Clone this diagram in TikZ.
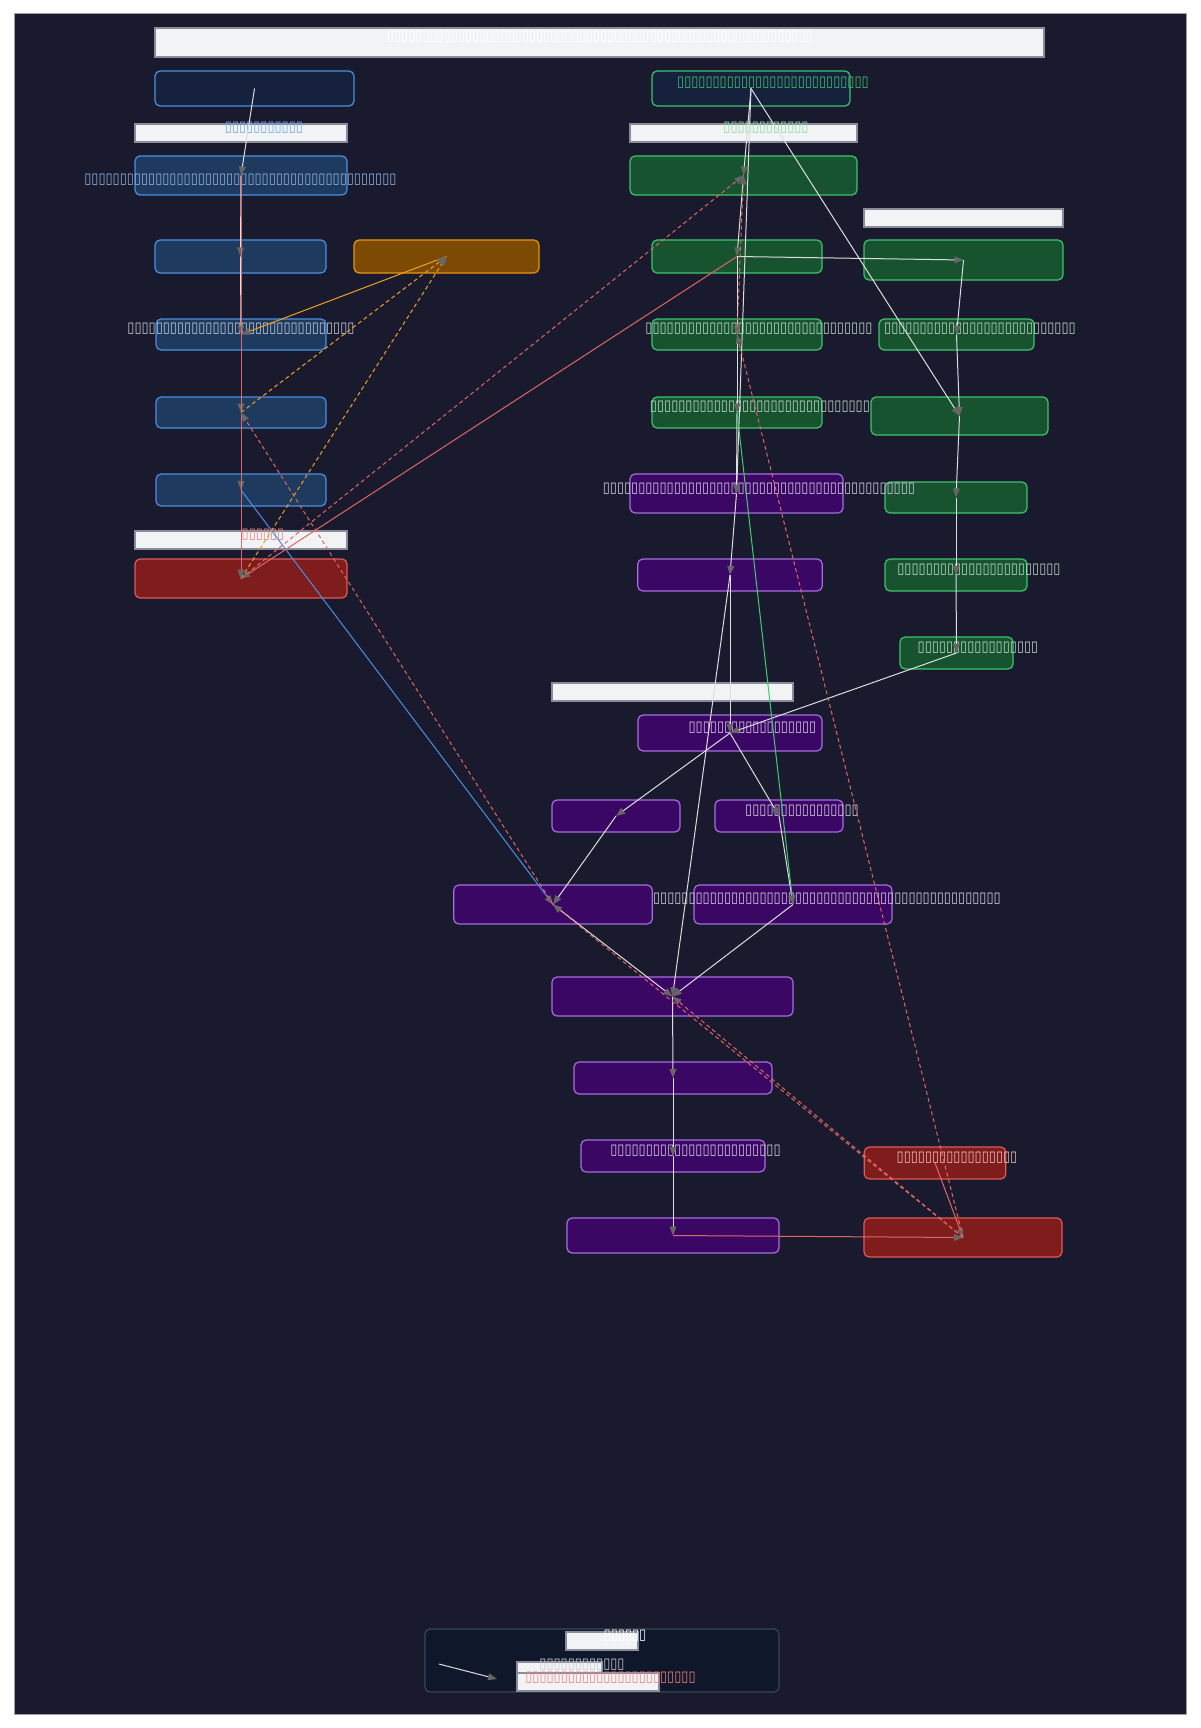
\documentclass[tikz,border=0pt]{standalone}
\usepackage{fontspec}
\usetikzlibrary{arrows.meta}
\newfontfamily\tofufont[FakeStretch=0.88]{DejaVu Sans}
\ExplSyntaxOn
\cs_new:Npn \tofurow #1 { \prg_replicate:nn {#1} {▯} }
\ExplSyntaxOff
\definecolor{bgc}{HTML}{1A1A2E}
\definecolor{framec}{HTML}{A0A0A0}
\definecolor{barfill}{HTML}{F1F3F5}
\definecolor{barborder}{HTML}{8A8C99}
\definecolor{navyfill}{HTML}{16213E}
\definecolor{bluefill}{HTML}{1E3A5F}
\definecolor{blueborder}{HTML}{4A90E2}
\definecolor{orangefill}{HTML}{7C4A03}
\definecolor{orangeborder}{HTML}{E8960F}
\definecolor{greenfill}{HTML}{17532F}
\definecolor{greenborder}{HTML}{3EC46D}
\definecolor{purplefill}{HTML}{3B0764}
\definecolor{purpleborder}{HTML}{A66EE0}
\definecolor{redfill}{HTML}{7F1D1D}
\definecolor{redborder}{HTML}{E05A5A}
\definecolor{legfill}{HTML}{0F172A}
\definecolor{legborder}{HTML}{3B4658}
\definecolor{edgewhite}{HTML}{DDDDDD}
\definecolor{arrowgray}{HTML}{666666}
\definecolor{edgeblue}{HTML}{4A90E2}
\definecolor{edgeorange}{HTML}{F0A020}
\definecolor{edgered}{HTML}{E06666}
\definecolor{edgegreen}{HTML}{3ECF6D}
\definecolor{txtblue}{HTML}{8FB3E0}
\definecolor{txtlight}{HTML}{C8CCD6}
\definecolor{txtgreen}{HTML}{3EC46D}
\definecolor{txtgreenlt}{HTML}{BFD9C8}
\definecolor{txtpurple}{HTML}{D6CCE6}
\definecolor{txtred}{HTML}{F0BDBD}
\definecolor{cltxtblue}{HTML}{6FA8F0}
\definecolor{cltxtgreen}{HTML}{86E0A0}
\definecolor{cltxtred}{HTML}{F08080}
\begin{document}
\begin{tikzpicture}[x=0.5pt,y=-0.5pt,
  box/.style={draw, rounded corners=2.5pt, line width=0.6pt, inner sep=0pt},
  bluebox/.style={box, fill=bluefill, draw=blueborder},
  navyblue/.style={box, fill=navyfill, draw=blueborder},
  navygreen/.style={box, fill=navyfill, draw=greenborder},
  orangebox/.style={box, fill=orangefill, draw=orangeborder},
  greenbox/.style={box, fill=greenfill, draw=greenborder},
  purplebox/.style={box, fill=purplefill, draw=purpleborder},
  redbox/.style={box, fill=redfill, draw=redborder},
  bar/.style={draw=barborder, fill=barfill, line width=0.6pt, inner sep=0pt},
  sz/.style 2 args={minimum width=#1, minimum height=#2},
  txt/.style={inner sep=0pt, font=\tofufont\fontsize{7.33pt}{7.5pt}\selectfont},
  tip/.style={-{Triangle[length=4.5pt,width=3.4pt,color=arrowgray]}},
  ew/.style={tip, draw=edgewhite, line width=0.5pt},
  eblue/.style={tip, draw=edgeblue, line width=0.5pt},
  eorange/.style={tip, draw=edgeorange, line width=0.5pt},
  eorangedash/.style={tip, draw=edgeorange, line width=0.5pt, dash pattern=on 2pt off 1.5pt},
  ered/.style={tip, draw=edgered, line width=0.5pt},
  ereddash/.style={tip, draw=edgered, line width=0.5pt, dash pattern=on 2pt off 1.5pt},
  egreen/.style={tip, draw=edgegreen, line width=0.5pt}]
\useasboundingbox (0,0) rectangle (1200,1728);
\fill[white] (0,0) rectangle (1200,1728);
\draw[fill=bgc, draw=framec, line width=0.5pt] (14,14) rectangle (1186,1714);

% title bar
\node[bar, sz={444.5pt}{14.5pt}] (title) at (599.5,42.5) {};
% cluster label bars
\node[bar, sz={106pt}{9pt}] (cl1) at (241,133) {};
\node[bar, sz={106pt}{9pt}] (cl2) at (241,540) {};
\node[bar, sz={113.5pt}{9pt}] (cl3) at (743.5,133) {};
\node[bar, sz={99.5pt}{9pt}] (cl4) at (963.5,218) {};
\node[bar, sz={120.5pt}{9pt}] (cl5) at (672.5,692) {};

% left column
\node[navyblue, sz={99.5pt}{17.5pt}] (A) at (254.5,88.5) {};
\node[bluebox, sz={106pt}{19.5pt}] (B) at (241,175.5) {};
\node[bluebox, sz={85.5pt}{16.5pt}] (C) at (240.5,256.5) {};
\node[orangebox, sz={92.5pt}{16.5pt}] (D) at (446.5,256.5) {};
\node[bluebox, sz={85pt}{15.5pt}] (E) at (241,334.5) {};
\node[bluebox, sz={85pt}{15.5pt}] (F) at (241,412.5) {};
\node[bluebox, sz={85pt}{16pt}] (G) at (241,490) {};
\node[redbox, sz={106pt}{19.5pt}] (H) at (241,578.5) {};

% middle / right columns
\node[navygreen, sz={99pt}{17.5pt}] (I) at (751,88.5) {};
\node[greenbox, sz={113.5pt}{19.5pt}] (J) at (743.5,175.5) {};
\node[greenbox, sz={85pt}{16.5pt}] (K) at (737,256.5) {};
\node[greenbox, sz={99.5pt}{20pt}] (L) at (963.5,260) {};
\node[greenbox, sz={85pt}{15.5pt}] (M) at (737,334.5) {};
\node[greenbox, sz={77.5pt}{15.5pt}] (N) at (956.5,334.5) {};
\node[greenbox, sz={85pt}{15.5pt}] (O) at (737,412.5) {};
\node[greenbox, sz={88.5pt}{19pt}] (P) at (959.5,416) {};
\node[purplebox, sz={106.5pt}{19.5pt}] (Q) at (736.5,493.5) {};
\node[greenbox, sz={71pt}{15.5pt}] (R) at (956,497.5) {};
\node[purplebox, sz={92.25pt}{16pt}] (S) at (730,575) {};
\node[greenbox, sz={71pt}{16pt}] (T) at (956,575) {};
\node[greenbox, sz={56.5pt}{16pt}] (U) at (956.5,653) {};
\node[purplebox, sz={92pt}{18pt}] (V) at (730,733) {};
\node[purplebox, sz={64pt}{16pt}] (W) at (616,816) {};
\node[purplebox, sz={64pt}{16pt}] (X) at (779,816) {};
\node[purplebox, sz={99.25pt}{19.5pt}] (Y) at (553,904.5) {};
\node[purplebox, sz={99pt}{19.5pt}] (Z) at (793,904.5) {};
\node[purplebox, sz={120.5pt}{19.5pt}] (AA) at (672.5,996.5) {};
\node[purplebox, sz={99pt}{16pt}] (AB) at (673,1078) {};
\node[purplebox, sz={92pt}{16pt}] (AC) at (673,1156) {};
\node[redbox, sz={70.75pt}{16pt}] (AD) at (935,1163) {};
\node[purplebox, sz={106pt}{17.5pt}] (AE) at (673,1235.5) {};
\node[redbox, sz={99pt}{19.5pt}] (AF) at (963,1237.5) {};

% legend
\node[draw=legborder, fill=legfill, rounded corners=2.5pt, line width=0.6pt, sz={177pt}{31.5pt}, inner sep=0pt] (leg) at (602,1660.5) {};
\node[bar, sz={36pt}{9pt}] (legbar1) at (602,1641) {};
\node[bar, sz={42.5pt}{5.5pt}] (legbar2) at (559.5,1667.5) {};
\node[bar, sz={71pt}{9pt}] (legbar3) at (588,1682) {};
\coordinate (legA) at (439,1664);
\coordinate (legB) at (497,1679);

% labels
\node[txt, text=white] (titletxt) at (600,37) {\tofurow{60}};
\node[txt, text=cltxtblue] (cl1txt) at (264,128) {\tofurow{11}};
\node[txt, text=cltxtred] (cl2txt) at (263,535) {\tofurow{6}};
\node[txt, text=cltxtgreen] (cl3txt) at (766,128) {\tofurow{12}};
\node[txt, text=txtblue] (Btxt) at (240.5,180) {\tofurow{44}};
\node[txt, text=txtlight] (Etxt) at (241,329) {\tofurow{32}};
\node[txt, text=txtgreen] (Itxt) at (773,83) {\tofurow{27}};
\node[txt, text=txtgreenlt] (Mtxt) at (759,329) {\tofurow{32}};
\node[txt, text=txtgreenlt] (Ntxt) at (980,329) {\tofurow{27}};
\node[txt, text=txtgreenlt] (Otxt) at (760,407) {\tofurow{31}};
\node[txt, text=txtpurple] (Qtxt) at (759,489) {\tofurow{44}};
\node[txt, text=txtgreenlt] (Ttxt) at (979,570) {\tofurow{23}};
\node[txt, text=txtgreenlt] (Utxt) at (978,648) {\tofurow{17}};
\node[txt, text=txtpurple] (Vtxt) at (752.5,728) {\tofurow{18}};
\node[txt, text=txtpurple] (Xtxt) at (802,811) {\tofurow{16}};
\node[txt, text=txtpurple] (Ztxt) at (827,899) {\tofurow{49}};
\node[txt, text=txtpurple] (ACtxt) at (695.5,1151) {\tofurow{24}};
\node[txt, text=txtred] (ADtxt) at (957,1158) {\tofurow{17}};
\node[txt, text=white] (legtitle) at (625,1636) {\tofurow{6}};
\node[txt, text=txtlight] (legtxt1) at (582,1665) {\tofurow{12}};
\node[txt, text=cltxtred] (legtxt2) at (610.5,1678) {\tofurow{24}};

% white edges
\draw[ew] (A.center) -- (B.center);
\draw[ew] (B.center) -- (C.center);
\draw[ew] (C.center) -- (E.center);
\draw[ew] (E.center) -- (F.center);
\draw[ew] (F.center) -- (G.center);
\draw[ew] (G.center) -- (H.center);
\draw[ew] (I.center) -- (J.center);
\draw[ew] (I.center) -- (P.center);
\draw[ew] (I.center) -- (Q.center);
\draw[ew] (J.center) -- (K.center);
\draw[ew] (K.center) -- (L.center);
\draw[ew] (K.center) -- (M.center);
\draw[ew] (M.center) -- (O.center);
\draw[ew] (O.center) -- (Q.center);
\draw[ew] (Q.center) -- (S.center);
\draw[ew] (L.center) -- (N.center);
\draw[ew] (N.center) -- (P.center);
\draw[ew] (P.center) -- (R.center);
\draw[ew] (R.center) -- (T.center);
\draw[ew] (T.center) -- (U.center);
\draw[ew] (U.center) -- (V.center);
\draw[ew] (S.center) -- (V.center);
\draw[ew] (S.center) -- (AA.center);
\draw[ew] (V.center) -- (W.center);
\draw[ew] (V.center) -- (X.center);
\draw[ew] (W.center) -- (Y.center);
\draw[ew] (X.center) -- (Z.center);
\draw[ew] (Y.center) -- (AA.center);
\draw[ew] (Z.center) -- (AA.center);
\draw[ew] (AA.center) -- (AB.center);
\draw[ew] (AB.center) -- (AC.center);
\draw[ew] (AC.center) -- (AE.center);
% coloured edges
\draw[eblue] (G.center) -- (Y.center);
\draw[eorange] (D.center) -- (E.center);
\draw[eorangedash] (F.center) -- (D.center);
\draw[eorangedash] (H.center) -- (D.center);
\draw[egreen] (O.center) -- (Z.center);
\draw[ered] (B.center) -- (H.center);
\draw[ered] (K.center) -- (H.center);
\draw[ered] (AE.center) -- (AF.center);
\draw[ered] (AD.center) -- (AF.center);
\draw[ereddash] (H.center) -- (J.center);
\draw[ereddash] (M.center) -- (J.center);
\draw[ereddash] (Y.center) -- (F.center);
\draw[ereddash] (AF.center) -- (M.center);
\draw[ereddash] (AF.center) -- (Y.center);
\draw[ereddash] (AF.center) -- (AA.center);
% legend arrow
\draw[ew] (legA) -- (legB);
\end{tikzpicture}
\end{document}
